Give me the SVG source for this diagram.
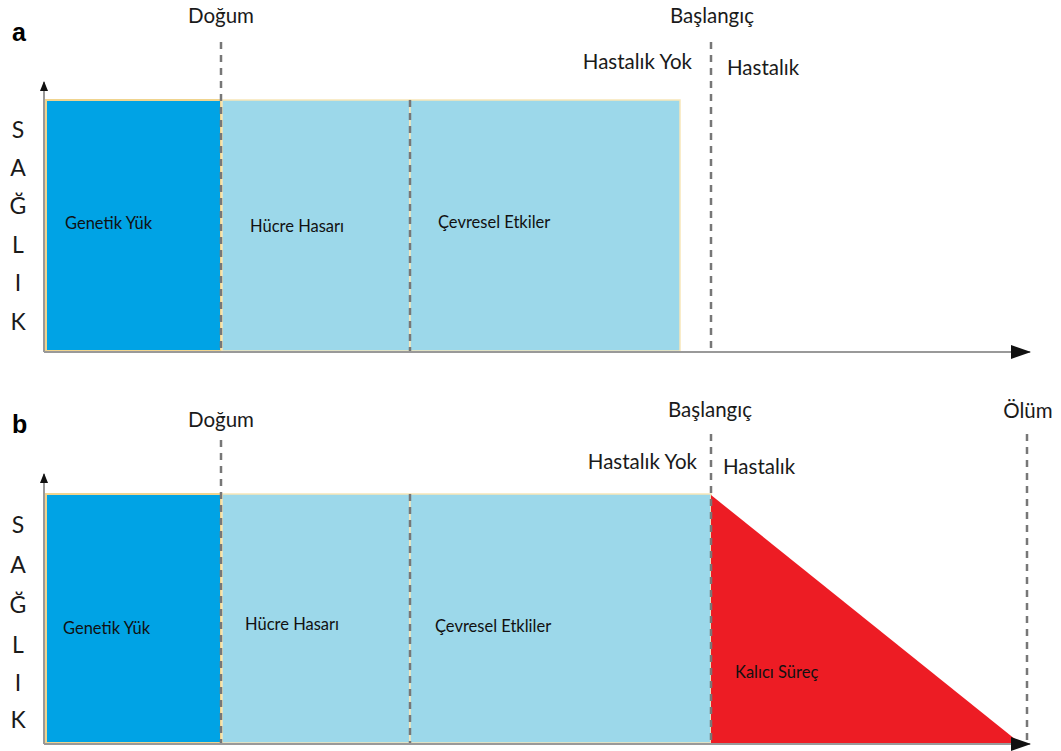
<svg xmlns="http://www.w3.org/2000/svg" width="1061" height="751" viewBox="0 0 1061 751">
<style>
.lbl{font-family:Lato,"Open Sans","Liberation Sans",sans-serif;font-size:20.5px;fill:#1a1a1a}
.in{font-family:Lato,"Open Sans","Liberation Sans",sans-serif;font-size:16.5px;fill:#111}
.big{font-family:"Liberation Sans",Arial,sans-serif;font-size:25px;font-weight:bold;fill:#000}
.ax{font-family:Lato,"Open Sans","Liberation Sans",sans-serif;font-size:23px;fill:#1a1a1a}
.dark{fill:#00a3e5;stroke:#f0d48f;stroke-width:2}
.light{fill:#9cd8ea;stroke:#f7e6b8;stroke-width:1.5}
.dash{stroke:#777;stroke-width:2.5;stroke-dasharray:7,6;fill:none}
.axis{stroke:#999;stroke-width:2;fill:none}
</style>
<defs>
<marker id="ah" markerWidth="10" markerHeight="8" refX="9" refY="4" orient="auto" markerUnits="userSpaceOnUse" viewBox="0 0 10 8">
<path d="M0,0 L10,4 L0,8 Z" fill="#111"/>
</marker>
<marker id="ahb" markerWidth="20" markerHeight="14" refX="19" refY="7" orient="auto" markerUnits="userSpaceOnUse" viewBox="0 0 20 14">
<path d="M0,0 L20,7 L0,14 Z" fill="#111"/>
</marker>
</defs>

<g id="panel-a">
<text class="big" x="12" y="41">a</text>
<g id="a-genetik"><rect class="dark" x="46" y="100" width="175" height="251"/><text class="in" x="65" y="229">Genetik Yük</text></g>
<g id="a-hucre"><rect class="light" x="222" y="100" width="188" height="251"/><text class="in" x="250" y="232">Hücre Hasarı</text></g>
<g id="a-cevre"><rect class="light" x="410" y="100" width="270" height="251"/><text class="in" x="438" y="228">Çevresel Etkiler</text></g>
<g id="a-labels">
<text class="lbl" x="221" y="23" text-anchor="middle">Doğum</text>
<text class="lbl" x="712" y="23" text-anchor="middle">Başlangıç</text>
<text class="lbl" x="692" y="69" text-anchor="end">Hastalık Yok</text>
<text class="lbl" x="727" y="75">Hastalık</text>
<g class="ax" text-anchor="middle">
<text x="18" y="138">S</text><text x="18" y="176">A</text><text x="18" y="214">Ğ</text><text x="18" y="253">L</text><text x="18" y="291">I</text><text x="18" y="330">K</text>
</g>
</g>
</g>

<g id="panel-b">
<text class="big" x="12" y="433">b</text>
<g id="b-genetik"><rect class="dark" x="46" y="494" width="175" height="249"/><text class="in" x="63" y="634">Genetik Yük</text></g>
<g id="b-hucre"><rect class="light" x="222" y="494" width="188" height="249"/><text class="in" x="245" y="630">Hücre Hasarı</text></g>
<g id="b-cevre"><rect class="light" x="410" y="494" width="301" height="249"/><text class="in" x="435" y="632">Çevresel Etkliler</text></g>
<g id="b-kalici"><polygon points="711,495 711,743 1020,743" fill="#ed1c24"/><text class="in" x="735" y="678">Kalıcı Süreç</text></g>
<g id="b-labels">
<text class="lbl" x="221" y="427" text-anchor="middle">Doğum</text>
<text class="lbl" x="710" y="417" text-anchor="middle">Başlangıç</text>
<text class="lbl" x="1028" y="418" text-anchor="middle">Ölüm</text>
<text class="lbl" x="697" y="469" text-anchor="end">Hastalık Yok</text>
<text class="lbl" x="723" y="474">Hastalık</text>
<g class="ax" text-anchor="middle">
<text x="18" y="533">S</text><text x="18" y="573">A</text><text x="18" y="613">Ğ</text><text x="18" y="653">L</text><text x="18" y="691">I</text><text x="18" y="728">K</text>
</g>
</g>
</g>

<g id="connectors">
<line class="axis" x1="44" y1="352" x2="44" y2="82" marker-end="url(#ah)"/>
<line class="axis" x1="44" y1="352" x2="1030" y2="352" marker-end="url(#ahb)"/>
<line class="dash" x1="221" y1="42" x2="221" y2="351"/>
<line class="dash" x1="410" y1="100" x2="410" y2="351"/>
<line class="dash" x1="711" y1="42" x2="711" y2="352"/>
<line class="axis" x1="44" y1="744" x2="44" y2="474" marker-end="url(#ah)"/>
<line class="axis" x1="44" y1="744" x2="1030" y2="744" marker-end="url(#ahb)"/>
<line class="dash" x1="221" y1="440" x2="221" y2="743"/>
<line class="dash" x1="410" y1="494" x2="410" y2="743"/>
<line class="dash" x1="711" y1="434" x2="711" y2="743"/>
<line class="dash" x1="1027" y1="434" x2="1027" y2="743"/>
</g>
</svg>
